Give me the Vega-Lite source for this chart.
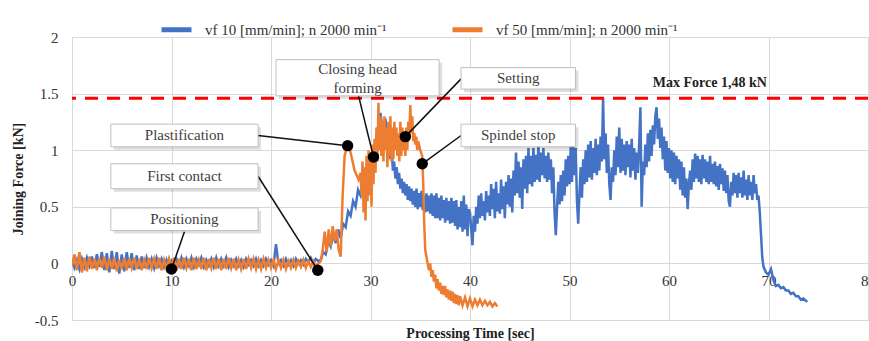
{
 "$schema": "https://vega.github.io/schema/vega-lite/v6.json",
 "width": 796, "height": 283,
 "autosize": {"type": "none"},
 "padding": {"left": 72, "top": 37, "right": 1, "bottom": 21},
 "background": "white",
 "config": {
  "font": "Liberation Serif",
  "view": {"stroke": "#d9d9d9"},
  "axis": {"gridColor": "#d9d9d9", "gridWidth": 1, "domain": false, "ticks": false, "labelFont": "Liberation Serif", "labelFontSize": 15, "labelColor": "#333333", "titleFont": "Liberation Serif", "titleFontSize": 14, "titleFontWeight": "bold", "titleColor": "#222222"},
  "legend": {"orient": "none", "legendX": 87, "legendY": -25, "direction": "horizontal", "symbolType": "stroke", "symbolStrokeWidth": 5, "symbolSize": 900, "labelFont": "Liberation Serif", "labelFontSize": 15, "labelColor": "#333333", "labelOffset": 11, "labelLimit": 0, "columnPadding": 55}
 },
 "datasets": {
  "blue": [
   {"t":0,"f":0.02},{"t":0.25,"f":-0.04},{"t":0.5,"f":0.03},{"t":0.75,"f":-0.05},{"t":1,"f":0.04},{"t":1.25,"f":-0.03},{"t":1.5,"f":0.05},{"t":1.75,"f":-0.02},{"t":2,"f":0.06},{"t":2.25,"f":-0.04},{"t":2.5,"f":0.08},{"t":2.75,"f":-0.03},{"t":3,"f":0.1},{"t":3.25,"f":-0.06},{"t":3.5,"f":0.09},{"t":3.75,"f":-0.08},{"t":4,"f":0.11},{"t":4.25,"f":-0.05},{"t":4.5,"f":0.1},{"t":4.75,"f":-0.09},{"t":5,"f":0.08},{"t":5.25,"f":-0.07},{"t":5.5,"f":0.1},{"t":5.75,"f":-0.04},{"t":6,"f":0.09},{"t":6.25,"f":-0.06},{"t":6.5,"f":0.07},{"t":6.75,"f":-0.05},{"t":7,"f":0.06},{"t":7.25,"f":-0.04},{"t":7.5,"f":0.05},{"t":7.75,"f":-0.03},{"t":8,"f":0.04},{"t":8.25,"f":-0.04},{"t":8.5,"f":0.05},{"t":8.75,"f":-0.02},{"t":9,"f":0.04},{"t":9.25,"f":-0.03},{"t":9.5,"f":0.03},{"t":9.75,"f":-0.04},{"t":10,"f":0.02},{"t":10.25,"f":-0.03},{"t":10.5,"f":0.04},{"t":10.75,"f":-0.02},{"t":11,"f":0.05},{"t":11.25,"f":-0.03},{"t":11.5,"f":0.04},{"t":11.75,"f":-0.02},{"t":12,"f":0.05},{"t":12.25,"f":-0.03},{"t":12.5,"f":0.04},{"t":12.75,"f":-0.01},{"t":13,"f":0.05},{"t":13.25,"f":-0.03},{"t":13.5,"f":0.03},{"t":13.75,"f":-0.02},{"t":14,"f":0.04},{"t":14.25,"f":-0.03},{"t":14.5,"f":0.05},{"t":14.75,"f":-0.02},{"t":15,"f":0.04},{"t":15.25,"f":-0.02},{"t":15.5,"f":0.05},{"t":15.75,"f":-0.03},{"t":16,"f":0.03},{"t":16.25,"f":-0.02},{"t":16.5,"f":0.04},{"t":16.75,"f":-0.02},{"t":17,"f":0.03},{"t":17.25,"f":-0.03},{"t":17.5,"f":0.04},{"t":17.75,"f":-0.01},{"t":18,"f":0.03},{"t":18.25,"f":-0.02},{"t":18.5,"f":0.04},{"t":18.75,"f":-0.02},{"t":19,"f":0.03},{"t":19.25,"f":-0.02},{"t":19.5,"f":0.04},{"t":19.75,"f":-0.01},{"t":20,"f":0.03},{"t":20.25,"f":-0.02},{"t":20.5,"f":0.17},{"t":20.75,"f":0.0},{"t":21,"f":0.03},{"t":21.25,"f":-0.02},{"t":21.5,"f":0.04},{"t":21.75,"f":-0.01},{"t":22,"f":0.03},{"t":22.25,"f":-0.02},{"t":22.5,"f":0.04},{"t":22.75,"f":0.0},{"t":23,"f":0.03},{"t":23.25,"f":-0.01},{"t":23.5,"f":0.04},{"t":23.75,"f":0.01},{"t":24,"f":0.05},{"t":24.25,"f":0.0},{"t":24.5,"f":0.04},{"t":24.75,"f":0.02},
   {"t":25,"f":0.03},{"t":25.25,"f":0.1},{"t":25.5,"f":0.08},{"t":25.75,"f":0.2},{"t":26,"f":0.15},{"t":26.25,"f":0.25},{"t":26.5,"f":0.18},{"t":26.75,"f":0.3},{"t":27,"f":0.22},{"t":27.25,"f":0.35},{"t":27.5,"f":0.32},{"t":27.75,"f":0.46},{"t":28,"f":0.42},{"t":28.25,"f":0.55},{"t":28.5,"f":0.5},{"t":28.75,"f":0.65},{"t":29,"f":0.6},{"t":29.25,"f":0.74},{"t":29.5,"f":0.7},{"t":29.75,"f":0.85},{"t":30,"f":0.8},{"t":30.25,"f":0.98},{"t":30.5,"f":0.95},{"t":30.75,"f":1.2},{"t":31,"f":1.33},{"t":31.25,"f":1.15},{"t":31.5,"f":1.28},{"t":31.75,"f":1.05},{"t":31.875,"f":1.15},{"t":32,"f":0.92},{"t":32.125,"f":1.02},{"t":32.25,"f":0.82},{"t":32.375,"f":0.9},{"t":32.5,"f":0.75},{"t":32.625,"f":0.85},{"t":32.75,"f":0.7},{"t":32.875,"f":0.8},{"t":33,"f":0.66},{"t":33.125,"f":0.75},{"t":33.25,"f":0.62},{"t":33.375,"f":0.72},{"t":33.5,"f":0.6},{"t":33.625,"f":0.7},{"t":33.75,"f":0.56},{"t":33.875,"f":0.68},{"t":34,"f":0.55},{"t":34.125,"f":0.66},{"t":34.25,"f":0.52},{"t":34.375,"f":0.64},{"t":34.5,"f":0.5},{"t":34.625,"f":0.66},{"t":34.75,"f":0.48},{"t":34.875,"f":0.62},{"t":35,"f":0.5},{"t":35.125,"f":0.64},{"t":35.25,"f":0.47},{"t":35.375,"f":0.6},{"t":35.5,"f":0.45},{"t":35.625,"f":0.62},{"t":35.75,"f":0.46},{"t":35.875,"f":0.6},{"t":36,"f":0.44},{"t":36.125,"f":0.62},{"t":36.25,"f":0.42},{"t":36.375,"f":0.6},{"t":36.5,"f":0.4},{"t":36.625,"f":0.62},{"t":36.75,"f":0.4},{"t":36.875,"f":0.58},{"t":37,"f":0.38},{"t":37.125,"f":0.6},{"t":37.25,"f":0.4},{"t":37.375,"f":0.56},{"t":37.5,"f":0.36},{"t":37.625,"f":0.58},{"t":37.75,"f":0.38},{"t":37.875,"f":0.55},{"t":38,"f":0.35},{"t":38.125,"f":0.58},{"t":38.25,"f":0.36},{"t":38.375,"f":0.55},{"t":38.5,"f":0.33},{"t":38.625,"f":0.56},{"t":38.75,"f":0.3},{"t":38.875,"f":0.5},{"t":39,"f":0.32},{"t":39.125,"f":0.55},{"t":39.25,"f":0.28},{"t":39.375,"f":0.6},{"t":39.5,"f":0.3},{"t":39.625,"f":0.52},{"t":39.75,"f":0.24},{"t":39.875,"f":0.48},
   {"t":40,"f":0.45},{"t":40.125,"f":0.3},{"t":40.25,"f":0.16},{"t":40.375,"f":0.42},{"t":40.5,"f":0.28},{"t":40.625,"f":0.5},{"t":40.75,"f":0.35},{"t":40.875,"f":0.6},{"t":41,"f":0.4},{"t":41.125,"f":0.62},{"t":41.25,"f":0.42},{"t":41.375,"f":0.55},{"t":41.5,"f":0.38},{"t":41.625,"f":0.64},{"t":41.75,"f":0.45},{"t":41.875,"f":0.6},{"t":42,"f":0.42},{"t":42.125,"f":0.7},{"t":42.25,"f":0.48},{"t":42.375,"f":0.66},{"t":42.5,"f":0.4},{"t":42.625,"f":0.72},{"t":42.75,"f":0.46},{"t":42.875,"f":0.62},{"t":43,"f":0.44},{"t":43.125,"f":0.74},{"t":43.25,"f":0.48},{"t":43.375,"f":0.68},{"t":43.5,"f":0.4},{"t":43.625,"f":0.72},{"t":43.75,"f":0.52},{"t":43.875,"f":0.78},{"t":44,"f":0.5},{"t":44.125,"f":0.75},{"t":44.25,"f":0.45},{"t":44.375,"f":0.82},{"t":44.5,"f":0.6},{"t":44.625,"f":0.98},{"t":44.75,"f":0.62},{"t":44.875,"f":0.9},{"t":45,"f":0.58},{"t":45.125,"f":0.85},{"t":45.25,"f":0.48},{"t":45.375,"f":0.92},{"t":45.5,"f":0.66},{"t":45.625,"f":0.95},{"t":45.75,"f":0.62},{"t":45.875,"f":1.02},{"t":46,"f":0.7},{"t":46.125,"f":0.95},{"t":46.25,"f":0.68},{"t":46.375,"f":1.02},{"t":46.5,"f":0.72},{"t":46.625,"f":0.96},{"t":46.75,"f":0.74},{"t":46.875,"f":1.05},{"t":47,"f":0.72},{"t":47.125,"f":0.98},{"t":47.25,"f":0.78},{"t":47.375,"f":1.02},{"t":47.5,"f":0.75},{"t":47.625,"f":0.95},{"t":47.75,"f":0.72},{"t":47.875,"f":0.98},{"t":48,"f":0.74},{"t":48.125,"f":0.92},{"t":48.25,"f":0.62},{"t":48.375,"f":0.85},{"t":48.5,"f":0.45},{"t":48.625,"f":0.25},{"t":48.75,"f":0.5},{"t":48.875,"f":0.72},{"t":49,"f":0.52},{"t":49.125,"f":0.78},{"t":49.25,"f":0.55},{"t":49.375,"f":0.82},{"t":49.5,"f":0.6},{"t":49.625,"f":0.92},{"t":49.75,"f":0.68},{"t":49.875,"f":0.95},{"t":50,"f":0.7},{"t":50.125,"f":1.05},{"t":50.25,"f":0.72},{"t":50.375,"f":1.1},{"t":50.5,"f":0.78},{"t":50.625,"f":1.02},{"t":50.75,"f":0.55},{"t":50.875,"f":0.35},{"t":51,"f":0.62},{"t":51.125,"f":0.85},{"t":51.25,"f":0.58},{"t":51.375,"f":0.92},{"t":51.5,"f":0.7},{"t":51.625,"f":1.0},{"t":51.75,"f":0.72},{"t":51.875,"f":1.05},{"t":52,"f":0.76},{"t":52.125,"f":1.08},{"t":52.25,"f":0.74},{"t":52.375,"f":1.02},{"t":52.5,"f":0.8},{"t":52.625,"f":1.1},{"t":52.75,"f":0.78},{"t":52.875,"f":1.05},{"t":53,"f":0.82},{"t":53.125,"f":1.12},{"t":53.25,"f":0.9},{"t":53.375,"f":1.46},{"t":53.5,"f":0.92},{"t":53.625,"f":1.15},{"t":53.75,"f":0.8},{"t":53.875,"f":1.05},{"t":54,"f":0.7},{"t":54.125,"f":0.56},{"t":54.25,"f":0.85},{"t":54.375,"f":0.72},{"t":54.5,"f":1.0},{"t":54.625,"f":0.78},{"t":54.75,"f":1.12},{"t":54.875,"f":0.85},{"t":55,"f":1.2},{"t":55.125,"f":0.8},{"t":55.25,"f":1.1},{"t":55.375,"f":0.82},{"t":55.5,"f":1.05},{"t":55.625,"f":0.78},{"t":55.75,"f":1.08},{"t":55.875,"f":0.85},{"t":56,"f":1.05},{"t":56.125,"f":0.76},{"t":56.25,"f":1.1},{"t":56.375,"f":0.82},{"t":56.5,"f":1.02},{"t":56.625,"f":0.74},{"t":56.75,"f":0.98},{"t":56.875,"f":0.8},{"t":57,"f":1.05},{"t":57.125,"f":1.38},{"t":57.25,"f":0.5},{"t":57.375,"f":0.9},{"t":57.5,"f":0.78},{"t":57.625,"f":1.05},{"t":57.75,"f":0.85},{"t":57.875,"f":1.15},{"t":58,"f":0.9},{"t":58.125,"f":1.18},{"t":58.25,"f":0.95},{"t":58.375,"f":1.22},{"t":58.5,"f":1.05},{"t":58.625,"f":1.3},{"t":58.75,"f":1.38},{"t":58.875,"f":1.1},{"t":59,"f":1.28},{"t":59.125,"f":1.02},{"t":59.25,"f":1.2},{"t":59.375,"f":0.92},{"t":59.5,"f":1.12},{"t":59.625,"f":0.82},{"t":59.75,"f":1.08},{"t":59.875,"f":0.8},{"t":60,"f":1.02},{"t":60.125,"f":0.75},{"t":60.25,"f":1.0},{"t":60.375,"f":0.72},{"t":60.5,"f":0.98},{"t":60.625,"f":0.7},{"t":60.75,"f":0.95},{"t":60.875,"f":0.75},{"t":61,"f":0.92},{"t":61.125,"f":0.65},{"t":61.25,"f":0.9},{"t":61.375,"f":0.6},{"t":61.5,"f":0.85},{"t":61.625,"f":0.58},{"t":61.75,"f":0.75},{"t":61.875,"f":0.48},{"t":62,"f":0.7},{"t":62.125,"f":0.82},{"t":62.25,"f":0.65},{"t":62.375,"f":0.92},{"t":62.5,"f":0.72},{"t":62.625,"f":0.97},{"t":62.75,"f":0.75},{"t":62.875,"f":0.95},{"t":63,"f":0.72},{"t":63.125,"f":0.92},{"t":63.25,"f":0.7},{"t":63.375,"f":0.96},{"t":63.5,"f":0.75},{"t":63.625,"f":0.92},{"t":63.75,"f":0.72},{"t":63.875,"f":0.9},{"t":64,"f":0.7},{"t":64.125,"f":0.95},{"t":64.25,"f":0.72},{"t":64.375,"f":0.88},{"t":64.5,"f":0.7},{"t":64.625,"f":0.9},{"t":64.75,"f":0.68},{"t":64.875,"f":0.86},{"t":65,"f":0.65},{"t":65.125,"f":0.88},{"t":65.25,"f":0.7},{"t":65.375,"f":0.84},{"t":65.5,"f":0.64},{"t":65.625,"f":0.82},{"t":65.75,"f":0.62},{"t":65.875,"f":0.78},{"t":66,"f":0.55},{"t":66.125,"f":0.5},{"t":66.25,"f":0.72},{"t":66.375,"f":0.6},{"t":66.5,"f":0.8},{"t":66.625,"f":0.62},{"t":66.75,"f":0.78},{"t":66.875,"f":0.58},{"t":67,"f":0.8},{"t":67.125,"f":0.62},{"t":67.25,"f":0.76},{"t":67.375,"f":0.58},{"t":67.5,"f":0.82},{"t":67.625,"f":0.6},{"t":67.75,"f":0.74},{"t":67.875,"f":0.56},{"t":68,"f":0.78},{"t":68.125,"f":0.6},{"t":68.25,"f":0.72},{"t":68.375,"f":0.56},{"t":68.5,"f":0.78},{"t":68.625,"f":0.62},{"t":68.75,"f":0.7},{"t":68.875,"f":0.56},{"t":69,"f":0.6},{"t":69.125,"f":0.45},{"t":69.25,"f":0.25},{"t":69.375,"f":0.05},{"t":69.5,"f":-0.03},{"t":69.75,"f":-0.08},{"t":70,"f":-0.1},{"t":70.25,"f":-0.05},{"t":70.5,"f":-0.15},{"t":70.75,"f":-0.2},{"t":71,"f":-0.19},{"t":71.25,"f":-0.22},{"t":71.5,"f":-0.21},{"t":71.75,"f":-0.24},{"t":72,"f":-0.24},{"t":72.25,"f":-0.27},{"t":72.5,"f":-0.26},{"t":72.75,"f":-0.29},{"t":73,"f":-0.29},{"t":73.25,"f":-0.32},{"t":73.5,"f":-0.31},{"t":73.9,"f":-0.34}
  ],
  "orange": [
   {"t":0,"f":-0.02},{"t":0.25,"f":0.08},{"t":0.5,"f":-0.06},{"t":0.75,"f":0.1},{"t":1,"f":-0.08},{"t":1.25,"f":0.05},{"t":1.5,"f":-0.07},{"t":1.75,"f":0.06},{"t":2,"f":-0.05},{"t":2.25,"f":0.04},{"t":2.5,"f":-0.06},{"t":2.75,"f":0.05},{"t":3,"f":-0.04},{"t":3.25,"f":0.06},{"t":3.5,"f":-0.06},{"t":3.75,"f":0.04},{"t":4,"f":-0.05},{"t":4.25,"f":0.05},{"t":4.5,"f":-0.07},{"t":4.75,"f":0.03},{"t":5,"f":-0.05},{"t":5.25,"f":0.05},{"t":5.5,"f":-0.06},{"t":5.75,"f":0.04},{"t":6,"f":-0.04},{"t":6.25,"f":0.05},{"t":6.5,"f":-0.05},{"t":6.75,"f":0.04},{"t":7,"f":-0.06},{"t":7.25,"f":0.03},{"t":7.5,"f":-0.05},{"t":7.75,"f":0.05},{"t":8,"f":-0.04},{"t":8.25,"f":0.04},{"t":8.5,"f":-0.05},{"t":8.75,"f":0.05},{"t":9,"f":-0.06},{"t":9.25,"f":0.03},{"t":9.5,"f":-0.05},{"t":9.75,"f":0.04},{"t":10,"f":-0.04},{"t":10.25,"f":0.05},{"t":10.5,"f":-0.06},{"t":10.75,"f":0.04},{"t":11,"f":-0.05},{"t":11.25,"f":0.05},{"t":11.5,"f":-0.04},{"t":11.75,"f":0.04},{"t":12,"f":-0.06},{"t":12.25,"f":0.05},{"t":12.5,"f":-0.05},{"t":12.75,"f":0.03},{"t":13,"f":-0.05},{"t":13.25,"f":0.05},{"t":13.5,"f":-0.06},{"t":13.75,"f":0.04},{"t":14,"f":-0.04},{"t":14.25,"f":0.05},{"t":14.5,"f":-0.05},{"t":14.75,"f":0.04},{"t":15,"f":-0.06},{"t":15.25,"f":0.04},{"t":15.5,"f":-0.05},{"t":15.75,"f":0.05},{"t":16,"f":-0.04},{"t":16.25,"f":0.04},{"t":16.5,"f":-0.06},{"t":16.75,"f":0.03},{"t":17,"f":-0.05},{"t":17.25,"f":0.04},{"t":17.5,"f":-0.05},{"t":17.75,"f":0.04},{"t":18,"f":-0.04},{"t":18.25,"f":0.04},{"t":18.5,"f":-0.05},{"t":18.75,"f":0.03},{"t":19,"f":-0.05},{"t":19.25,"f":0.04},{"t":19.5,"f":-0.04},{"t":19.75,"f":0.03},{"t":20,"f":-0.04},{"t":20.25,"f":0.03},{"t":20.5,"f":-0.05},{"t":20.75,"f":0.03},{"t":21,"f":-0.04},{"t":21.25,"f":0.03},{"t":21.5,"f":-0.05},{"t":21.75,"f":0.02},{"t":22,"f":-0.04},{"t":22.25,"f":0.03},{"t":22.5,"f":-0.04},{"t":22.75,"f":0.02},{"t":23,"f":-0.03},{"t":23.25,"f":0.03},{"t":23.5,"f":-0.04},{"t":23.75,"f":0.02},{"t":24,"f":-0.03},{"t":24.25,"f":0.02},{"t":24.5,"f":-0.03},{"t":24.75,"f":0.0},
   {"t":25,"f":0.02},{"t":25.2,"f":0.12},{"t":25.4,"f":0.28},{"t":25.6,"f":0.1},{"t":25.8,"f":0.3},{"t":26,"f":0.15},{"t":26.2,"f":0.33},{"t":26.4,"f":0.2},{"t":26.6,"f":0.3},{"t":26.8,"f":0.12},{"t":27,"f":0.06},{"t":27.2,"f":0.6},{"t":27.4,"f":0.95},{"t":27.6,"f":1.02},{"t":27.8,"f":1.05},{"t":28,"f":0.98},{"t":28.2,"f":0.9},{"t":28.4,"f":0.82},{"t":28.6,"f":0.78},{"t":28.8,"f":0.74},{"t":29,"f":0.8},{"t":29.1,"f":0.6},{"t":29.2,"f":0.9},{"t":29.3,"f":0.45},{"t":29.4,"f":0.85},{"t":29.5,"f":0.38},{"t":29.6,"f":0.95},{"t":29.7,"f":0.55},{"t":29.8,"f":1.0},{"t":29.9,"f":0.6},{"t":30,"f":0.95},{"t":30.1,"f":0.5},{"t":30.2,"f":1.05},{"t":30.3,"f":0.7},{"t":30.4,"f":1.1},{"t":30.5,"f":0.8},{"t":30.6,"f":1.2},{"t":30.7,"f":0.9},{"t":30.8,"f":1.42},{"t":30.9,"f":1.0},{"t":31,"f":1.3},{"t":31.1,"f":0.95},{"t":31.2,"f":1.25},{"t":31.3,"f":0.9},{"t":31.4,"f":1.3},{"t":31.5,"f":1.0},{"t":31.6,"f":1.2},{"t":31.7,"f":0.85},{"t":31.8,"f":1.25},{"t":31.9,"f":0.95},{"t":32,"f":1.3},{"t":32.1,"f":0.9},{"t":32.2,"f":1.2},{"t":32.3,"f":0.92},{"t":32.4,"f":1.25},{"t":32.5,"f":1.0},{"t":32.6,"f":1.2},{"t":32.7,"f":0.95},{"t":32.8,"f":1.15},{"t":32.9,"f":0.9},{"t":33,"f":1.25},{"t":33.1,"f":0.95},{"t":33.2,"f":1.2},{"t":33.3,"f":1.0},{"t":33.4,"f":1.1},{"t":33.5,"f":0.95},{"t":33.6,"f":1.2},{"t":33.7,"f":1.0},{"t":33.8,"f":1.25},{"t":33.9,"f":1.1},{"t":34,"f":1.4},{"t":34.1,"f":1.15},{"t":34.2,"f":1.3},{"t":34.3,"f":1.08},{"t":34.4,"f":1.15},{"t":34.5,"f":1.05},{"t":34.6,"f":1.12},{"t":34.7,"f":1.0},{"t":34.8,"f":1.08},{"t":35,"f":1.0},{"t":35.2,"f":0.95},{"t":35.3,"f":0.7},{"t":35.4,"f":0.35},{"t":35.5,"f":0.12},{"t":35.7,"f":0.02},{"t":35.875,"f":-0.06},{"t":36,"f":0.0},{"t":36.125,"f":-0.12},{"t":36.25,"f":-0.06},{"t":36.375,"f":-0.16},{"t":36.5,"f":-0.1},{"t":36.625,"f":-0.22},{"t":36.75,"f":-0.14},{"t":36.875,"f":-0.24},{"t":37,"f":-0.17},{"t":37.125,"f":-0.27},{"t":37.25,"f":-0.2},{"t":37.375,"f":-0.28},{"t":37.5,"f":-0.2},{"t":37.625,"f":-0.3},{"t":37.75,"f":-0.23},{"t":37.875,"f":-0.32},{"t":38,"f":-0.24},{"t":38.125,"f":-0.33},{"t":38.25,"f":-0.25},{"t":38.375,"f":-0.35},{"t":38.5,"f":-0.27},{"t":38.625,"f":-0.36},{"t":38.75,"f":-0.28},{"t":38.875,"f":-0.37},{"t":39,"f":-0.29},{"t":39.25,"f":-0.37},{"t":39.5,"f":-0.3},{"t":39.75,"f":-0.38},{"t":40,"f":-0.31},{"t":40.25,"f":-0.38},{"t":40.5,"f":-0.32},{"t":40.75,"f":-0.37},{"t":41,"f":-0.32},{"t":41.25,"f":-0.37},{"t":41.5,"f":-0.33},{"t":41.75,"f":-0.37},{"t":42,"f":-0.34},{"t":42.25,"f":-0.38},{"t":42.5,"f":-0.35},{"t":42.75,"f":-0.38}
  ],
  "boxes": [
   {"x1":3.9,"x2":18.7,"y1":0.29,"y2":0.49,"cx":11.3,"cy":0.39,"label":"Positioning"},
   {"x1":3.9,"x2":18.7,"y1":0.66,"y2":0.88,"cx":11.3,"cy":0.77,"label":"First contact"},
   {"x1":3.9,"x2":18.7,"y1":1.03,"y2":1.23,"cx":11.3,"cy":1.13,"label":"Plastification"},
   {"x1":20.5,"x2":36.9,"y1":1.48,"y2":1.8,"cx":28.7,"cy":1.72,"label":"Closing head\nforming"},
   {"x1":39.1,"x2":50.6,"y1":1.54,"y2":1.73,"cx":44.85,"cy":1.635,"label":"Setting"},
   {"x1":39.1,"x2":50.6,"y1":1.03,"y2":1.23,"cx":44.85,"cy":1.13,"label":"Spindel stop"}
  ],
  "links": [
   {"x":11.3,"y":0.28,"px":10,"py":-0.05},
   {"x":18.7,"y":0.77,"px":24.7,"py":-0.06},
   {"x":18.7,"y":1.13,"px":27.7,"py":1.04},
   {"x":28.8,"y":1.48,"px":30.3,"py":0.94},
   {"x":39.1,"y":1.63,"px":33.5,"py":1.12},
   {"x":39.1,"y":1.13,"px":35.2,"py":0.88}
  ]
 },
 "layer": [
  {
   "data": {"name": "blue"},
   "mark": {"type": "line", "strokeWidth": 2.5, "clip": true},
   "encoding": {
    "x": {"field": "t", "type": "quantitative", "scale": {"domain": [0, 80], "nice": false}, "axis": {"values": [0,10,20,30,40,50,60,70,80], "title": "Processing Time [sec]", "offset": -57, "labelPadding": 10, "titleY": 70, "titleBaseline": "middle", "labelFlush": false}},
    "y": {"field": "f", "type": "quantitative", "scale": {"domain": [-0.5, 2], "nice": false}, "axis": {"values": [-0.5,0,0.5,1,1.5,2], "labelExpr": "datum.value + ''", "title": "Joining Force [kN]", "labelPadding": 14, "titlePadding": 9}},
    "color": {"datum": "vf 10 [mm/min]; n 2000 min⁻¹", "type": "nominal", "scale": {"domain": ["vf 10 [mm/min]; n 2000 min⁻¹", "vf 50 [mm/min]; n 2000 min⁻¹"], "range": ["#4472C4", "#ED7D31"]}, "legend": {"title": null}}
   }
  },
  {
   "data": {"name": "orange"},
   "mark": {"type": "line", "strokeWidth": 2.5, "clip": true},
   "encoding": {
    "x": {"field": "t", "type": "quantitative"},
    "y": {"field": "f", "type": "quantitative"},
    "color": {"datum": "vf 50 [mm/min]; n 2000 min⁻¹", "type": "nominal"}
   }
  },
  {
   "data": {"values": [{"y": 1.46}]},
   "mark": {"type": "rule", "color": "#ff0000", "strokeWidth": 3, "strokeDash": [13, 9]},
   "encoding": {"y": {"field": "y", "type": "quantitative"}}
  },
  {
   "data": {"name": "links"},
   "mark": {"type": "rule", "color": "#111111", "strokeWidth": 1.5},
   "encoding": {
    "x": {"field": "x", "type": "quantitative"},
    "y": {"field": "y", "type": "quantitative"},
    "x2": {"field": "px"},
    "y2": {"field": "py"}
   }
  },
  {
   "data": {"name": "links"},
   "mark": {"type": "point", "filled": true, "color": "#000000", "size": 130, "opacity": 1},
   "encoding": {
    "x": {"field": "px", "type": "quantitative"},
    "y": {"field": "py", "type": "quantitative"}
   }
  },
  {
   "data": {"name": "boxes"},
   "mark": {"type": "rect", "fill": "#000000", "opacity": 0.13, "xOffset": 3, "x2Offset": 3, "yOffset": 3, "y2Offset": 3},
   "encoding": {
    "x": {"field": "x1", "type": "quantitative"},
    "x2": {"field": "x2"},
    "y": {"field": "y1", "type": "quantitative"},
    "y2": {"field": "y2"}
   }
  },
  {
   "data": {"name": "boxes"},
   "mark": {"type": "rect", "fill": "#ffffff", "stroke": "#bfbfbf", "strokeWidth": 1},
   "encoding": {
    "x": {"field": "x1", "type": "quantitative"},
    "x2": {"field": "x2"},
    "y": {"field": "y1", "type": "quantitative"},
    "y2": {"field": "y2"}
   }
  },
  {
   "data": {"name": "boxes"},
   "mark": {"type": "text", "font": "Liberation Serif", "fontSize": 15, "color": "#404040", "lineBreak": "\n", "lineHeight": 19, "align": "center", "baseline": "middle"},
   "encoding": {
    "x": {"field": "cx", "type": "quantitative"},
    "y": {"field": "cy", "type": "quantitative"},
    "text": {"field": "label"}
   }
  },
  {
   "data": {"values": [{"x": 64.1, "y": 1.59, "label": "Max Force 1,48 kN"}]},
   "mark": {"type": "text", "font": "Liberation Serif", "fontSize": 14, "fontWeight": "bold", "color": "#222222", "align": "center", "baseline": "middle"},
   "encoding": {
    "x": {"field": "x", "type": "quantitative"},
    "y": {"field": "y", "type": "quantitative"},
    "text": {"field": "label"}
   }
  }
 ]
}
